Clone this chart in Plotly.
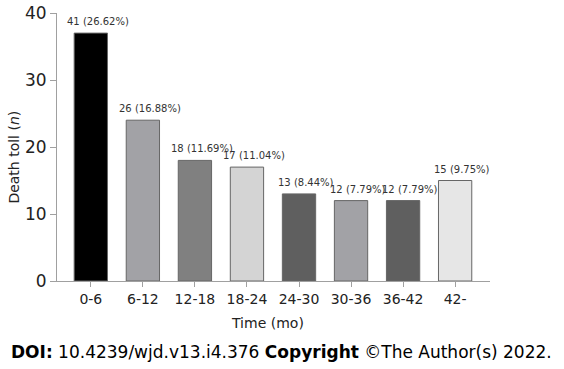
import plotly.graph_objects as go

categories = ["0-6", "6-12", "12-18", "18-24", "24-30", "30-36", "36-42", "42-"]
bar_heights = [37, 24, 18, 17, 13, 12, 12, 15]
bar_labels = ["41 (26.62%)", "26 (16.88%)", "18 (11.69%)", "17 (11.04%)",
              "13 (8.44%)", "12 (7.79%)", "12 (7.79%)", "15 (9.75%)"]
bar_colors = ["#000000", "#a2a2a6", "#808080", "#d4d4d4",
              "#5f5f5f", "#a2a2a6", "#5f5f5f", "#e6e6e6"]
y_ticks = [0, 10, 20, 30, 40]

FONT = "DejaVu Sans"

fig = go.Figure()
fig.add_trace(go.Bar(
    x=categories, y=bar_heights,
    marker=dict(color=bar_colors, line=dict(color="#666666", width=1)),
    width=0.64, hoverinfo="skip",
))

for c, h, t in zip(categories, bar_heights, bar_labels):
    fig.add_annotation(x=c, y=h, text=t, showarrow=False, yanchor="bottom",
                       yshift=4, xshift=7,
                       font=dict(family=FONT, size=10, color="#333333"))

fig.add_annotation(xref="paper", yref="paper", x=0.487, y=-0.157, yanchor="middle",
                   text="Time (mo)", showarrow=False,
                   font=dict(family=FONT, size=14, color="#222222"))

fig.add_annotation(xref="paper", yref="paper", x=-0.1, y=0.463,
                   xanchor="center", yanchor="middle",
                   text="Death toll (<i>n</i>)", textangle=-90, showarrow=False,
                   font=dict(family=FONT, size=14, color="#222222"))

fig.add_annotation(xref="paper", yref="paper", x=-0.11, y=-0.265,
                   xanchor="left", yanchor="middle",
                   text="<b>DOI:</b> 10.4239/wjd.v13.i4.376 <b>Copyright</b> ©The Author(s) 2022.",
                   showarrow=False,
                   font=dict(family=FONT, size=17, color="#000000"))

fig.update_layout(
    width=564, height=369,
    margin=dict(l=57, r=74, t=13, b=88),
    plot_bgcolor="white", paper_bgcolor="white",
    showlegend=False,
    xaxis=dict(range=[-0.65, 7.67], showline=True, linecolor="#a0a0a0", linewidth=1,
               ticks="outside", ticklen=5, tickcolor="#a0a0a0", automargin=False,
               tickfont=dict(family=FONT, size=14, color="#222222"),
               showgrid=False, zeroline=False, fixedrange=True),
    yaxis=dict(range=[0, 40], tickvals=y_ticks, showline=True, linecolor="#a0a0a0", linewidth=1,
               ticks="outside", ticklen=6, tickcolor="#a0a0a0", automargin=False,
               tickfont=dict(family=FONT, size=17, color="#222222"),
               showgrid=False, zeroline=False, fixedrange=True),
)

fig.write_html("out.html", config={"displayModeBar": False},
               post_script="document.body.style.margin='0';")
